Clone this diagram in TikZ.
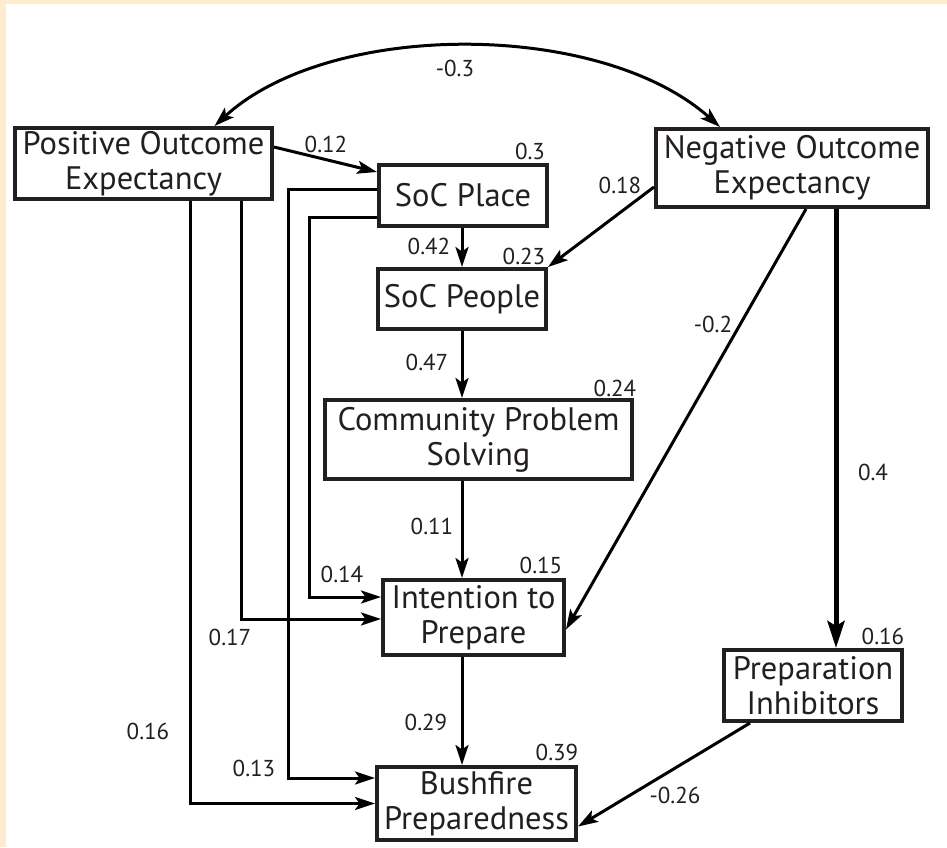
\documentclass[tikz,border=0pt]{standalone}
\usepackage{fontspec}
\setmainfont{PT Sans}
\usetikzlibrary{arrows.meta}
\definecolor{peach}{RGB}{255,235,205}
\definecolor{ink}{RGB}{35,31,32}
\tikzset{
  pathtip/.tip={Stealth[length=20pt,width=13pt,inset=4.5pt]},
  bigtip/.tip={Stealth[length=27pt,width=17pt,inset=5pt]},
  var/.style={draw=ink, line width=4pt, fill=white, text=ink, align=center,
    inner sep=0pt, font=\fontsize{32.5}{35}\selectfont},
  lab/.style={text=ink, inner sep=0pt, font=\fontsize{23}{25}\selectfont},
  conn/.style={draw=black, line width=3pt, -pathtip},
}
\begin{document}
\begin{tikzpicture}[x=1pt,y=-1pt]
\fill[peach] (0,0) rectangle (947,847);
\fill[white] (6,4) rectangle (947,847);
\node[var, minimum width=257pt, minimum height=71pt] (poe) at (143.5,163.5) {Positive Outcome\\Expectancy};
\node[var, minimum width=272pt, minimum height=78pt] (noe) at (792,168) {Negative Outcome\\Expectancy};
\node[var, minimum width=168pt, minimum height=61pt] (place) at (463,195.5) {SoC Place};
\node[var, minimum width=168pt, minimum height=60pt] (people) at (462,299) {SoC People};
\node[var, minimum width=307pt, minimum height=79pt] (cps) at (478.5,439.5) {Community Problem\\Solving};
\node[var, minimum width=181pt, minimum height=75pt] (itp) at (473.5,617.5) {Intention to\\Prepare};
\node[var, minimum width=199pt, minimum height=73pt] (bp) at (476.5,803.5) {Bushfire\\Preparedness};
\node[var, minimum width=178pt, minimum height=71pt] (pi) at (813,685.5) {Preparation\\Inhibitors};
\draw[conn, pathtip-pathtip] ([xshift=71pt]poe.north) .. controls (330,20) and (600,20) .. ([xshift=-72pt]noe.north);
\draw[conn] ([yshift=16.5pt]poe.east) -- ([yshift=23.5pt]place.west);
\draw[conn] (place.south -| people.south) -- (people.north);
\draw[conn] ([yshift=-19pt]noe.west) -- (people.north east);
\draw[conn] (people.south) -- (people.south |- cps.north);
\draw[conn] (people.south |- cps.south) -- (people.south |- itp.north);
\draw[conn] ([xshift=14pt]noe.south) -- ([yshift=-12pt]itp.east);
\draw[conn, line width=5pt, -bigtip] ([xshift=44pt]noe.south) -- ([xshift=44pt]noe.south |- pi.north);
\draw[conn] ([yshift=-21.5pt]place.west) -- ++(-68,0) |- ([yshift=20.5pt]itp.west);
\draw[conn] ([yshift=6.5pt]place.west) -- ++(-89,0) |- ([yshift=25.5pt]bp.west);
\draw[conn] ([xshift=97.5pt]poe.south) |- ([yshift=-1.5pt]itp.west);
\draw[conn] ([xshift=46.5pt]poe.south) |- (bp.west);
\draw[conn] (people.south |- itp.south) -- (people.south |- bp.north);
\draw[conn] ([xshift=-63pt]pi.south) -- ([yshift=-23pt]bp.east);
\foreach \n/\t/\x/\y in {r1/-0.3/455/68, r2/0.12/326/144, r3/0.3/530/151, r4/0.18/620/185,
  r5/0.42/429/246, r6/0.23/524/256, r7/-0.2/713/324, r8/0.47/427/362, r9/0.24/615/388,
  r10/0.4/873/472, r11/0.11/432/526, r12/0.14/342/574, r13/0.15/541/565, r14/0.17/230/637,
  r15/0.16/883/636, r16/0.29/426/722, r17/0.16/148/731, r18/0.39/557/752, r19/0.13/254/768,
  r20/-0.26/675/795}
  \node[lab] (\n) at (\x,\y) {\t};
\end{tikzpicture}
\end{document}
